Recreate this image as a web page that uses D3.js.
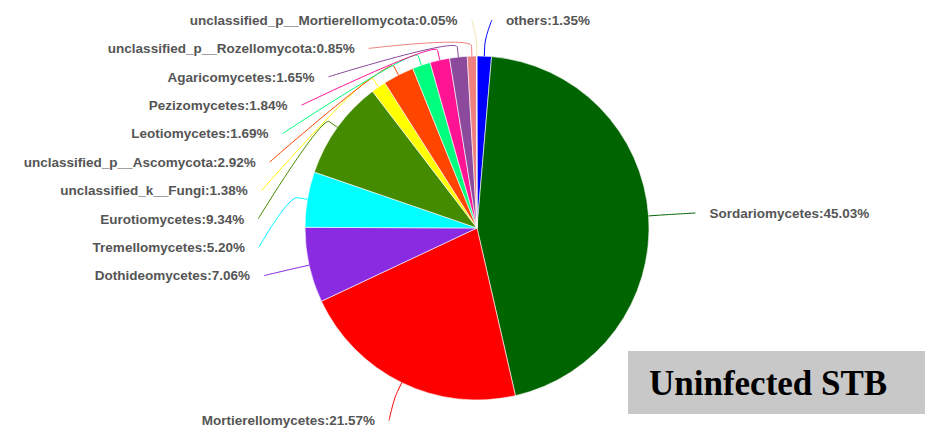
<!DOCTYPE html>
<html><head><meta charset="utf-8">
<script src="https://cdn.jsdelivr.net/npm/d3@7"></script>
<style>html,body{margin:0;padding:0;background:#fff;overflow:hidden;} svg{display:block;}</style>
</head><body>
<svg id="chart" width="926" height="431"></svg>
<script>
// ---- data ----
const categories = ["others", "Sordariomycetes", "Mortierellomycetes", "Dothideomycetes", "Tremellomycetes",
  "Eurotiomycetes", "unclassified_k__Fungi", "unclassified_p__Ascomycota", "Leotiomycetes",
  "Pezizomycetes", "Agaricomycetes", "unclassified_p__Rozellomycota", "unclassified_p__Mortierellomycota"];
const percents = [1.35, 45.03, 21.57, 7.06, 5.20, 9.34, 1.38, 2.92, 1.69, 1.84, 1.65, 0.85, 0.05];
const sliceColors = ["#0000FF", "#006400", "#FF0000", "#8A2BE2", "#00FFFF", "#458B00", "#FFFF00",
  "#FF4500", "#00FF7F", "#FF1493", "#8B4A9C", "#F08080", "#EEE8AA"];
const boxTitle = "Uninfected STB";

// ---- layout ----
const W = 926, H = 431;
const cx = 477, cy = 228, r = 172;
const labelA = 233, labelBy = 214, labelBx = 211, labelTop = 20, labelGap = 28.4, topExtra = 19;
const breakOff = 10, lineGap = 14;

const svg = d3.select("#chart");
const data = categories.map((c, i) => ({name: c, v: percents[i], color: sliceColors[i]}));
const pie = d3.pie().sort(null).value(d => d.v).startAngle(0).endAngle(2 * Math.PI);
const arcs = pie(data);
const arc = d3.arc().innerRadius(0).outerRadius(r);

const g = svg.append("g").attr("transform", `translate(${cx},${cy})`);
g.selectAll("path.slice").data(arcs).join("path")
  .attr("class", "slice")
  .attr("d", arc)
  .attr("fill", d => d.data.color)
  .attr("stroke", "#fff").attr("stroke-width", 0.6);

// label placement
arcs.forEach(d => {
  d.mid = (d.startAngle + d.endAngle) / 2;
  d.side = Math.sin(d.mid) >= 0 ? 1 : -1;
  d.natY = cy - labelBy * Math.cos(d.mid);
});
[1, -1].forEach(side => {
  const grp = arcs.filter(d => d.side === side).sort((a, b) => a.natY - b.natY);
  let prev = -Infinity;
  grp.forEach((d, i) => {
    let y = Math.max(d.natY, labelTop);
    if (i > 0) y = Math.max(y, prev + labelGap);
    d.ly = y; prev = y;
  });
});
arcs.forEach(d => {
  const dy = d.ly - cy;
  let off;
  if (d.ly === labelTop) off = labelA * Math.abs(Math.sin(d.mid)) + topExtra;
  else if (d.ly === d.natY) off = labelA * Math.abs(Math.sin(d.mid));
  else off = labelA * Math.sqrt(Math.max(0, 1 - (dy / labelBx) ** 2));
  d.lx = cx + d.side * off;
  const ex = cx + r * Math.sin(d.mid), ey = cy - r * Math.cos(d.mid);
  const bx = cx + (r + breakOff) * Math.sin(d.mid), by = cy - (r + breakOff) * Math.cos(d.mid);
  const sx = d.lx - d.side * lineGap, sy = d.ly;
  d.conn = `M${sx},${sy} C${sx},${sy} ${2 * bx - ex},${2 * by - ey} ${bx},${by} L${ex},${ey}`;
});

svg.append("g").selectAll("path").data(arcs).join("path")
  .attr("d", d => d.conn)
  .attr("fill", "none")
  .attr("stroke", d => d.data.color)
  .attr("stroke-width", 1);

svg.append("g").selectAll("text").data(arcs).join("text")
  .attr("x", d => d.lx)
  .attr("y", d => d.ly)
  .attr("dy", "0.35em")
  .attr("text-anchor", d => d.side > 0 ? "start" : "end")
  .style("font-family", "'Liberation Sans', Arial, sans-serif")
  .style("font-size", "13.5px")
  .style("font-weight", "bold")
  .attr("fill", "#555")
  .text(d => `${d.data.name}:${d.data.v.toFixed(2)}%`);

// title box
svg.append("rect").attr("x", 628).attr("y", 351).attr("width", 297).attr("height", 63).attr("fill", "#C8C8C8");
svg.append("text").attr("x", 649).attr("y", 395)
  .style("font-family", "'Liberation Serif', 'Times New Roman', serif")
  .style("font-size", "35px").style("font-weight", "bold")
  .attr("fill", "#000").text(boxTitle);
</script>
</body></html>
